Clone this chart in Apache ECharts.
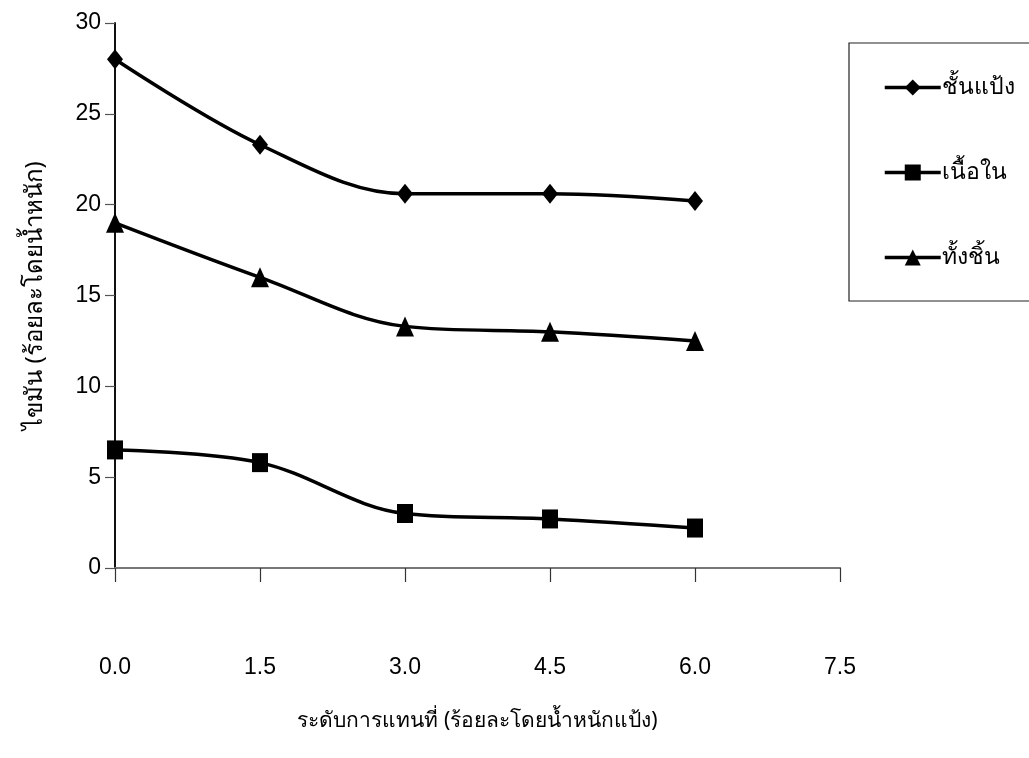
<!DOCTYPE html>
<html>
<head>
<meta charset="utf-8">
<script src="https://cdn.jsdelivr.net/npm/echarts@6/dist/echarts.min.js"></script>
<style>
  html, body { margin: 0; padding: 0; background: #fff; }
  #chart { width: 1029px; height: 758px; }
</style>
</head>
<body>
<div id="chart"></div>
<script>
// Replacement level (% by weight of flour)
const levels = [0.0, 1.5, 3.0, 4.5, 6.0];
// Fat content (% by weight) per part of the product
const seriesNames = ['ชั้นแป้ง', 'เนื้อใน', 'ทั้งชิ้น'];
const crustFat = [28.0, 23.3, 20.6, 20.6, 20.2];
const fillingFat = [6.5, 5.8, 3.0, 2.7, 2.2];
const wholeFat = [19.0, 16.0, 13.3, 13.0, 12.5];

const xTitle = 'ระดับการแทนที่ (ร้อยละโดยน้ำหนักแป้ง)';
const yTitle = 'ไขมัน (ร้อยละโดยน้ำหนัก)';

const NUM_FONT = '"Liberation Sans", Arial, sans-serif';
const THAI_FONT = '"Noto Sans", sans-serif';

const chart = echarts.init(document.getElementById('chart'));

function pairs(vals) {
  return levels.map((x, i) => [x, vals[i]]);
}

const lineStyle = { color: '#000', width: 3.5 };
const itemStyle = { color: '#000' };

chart.setOption({
  backgroundColor: '#fff',
  animation: false,
  grid: { left: 115, right: 189, top: 23, bottom: 190 },
  legend: {
    orient: 'vertical',
    left: 849,
    top: 43,
    padding: [33, 120, 32, 34],
    borderColor: '#222',
    borderWidth: 1.2,
    itemWidth: 56,
    itemHeight: 20,
    itemGap: 62,
    lineStyle: { width: 3.5 },
    textStyle: { fontFamily: THAI_FONT, fontSize: 23, color: '#000', padding: [0, 0, 0, -4] },
    data: seriesNames
  },
  xAxis: [{
    type: 'value',
    min: 0, max: 7.5, interval: 1.5,
    name: xTitle,
    nameLocation: 'middle',
    nameGap: 143,
    nameTextStyle: { fontFamily: THAI_FONT, fontSize: 21, color: '#000' },
    axisLine: { show: true, onZero: false, lineStyle: { color: '#000', width: 1.5 } },
    axisTick: { show: true, length: 14, lineStyle: { color: '#333', width: 1.2 } },
    axisLabel: {
      margin: 88, fontFamily: NUM_FONT, fontSize: 23, color: '#000',
      formatter: v => v.toFixed(1)
    },
    splitLine: { show: false }
  }, {
    type: 'value',
    position: 'top',
    min: 0, max: 7.5,
    axisLine: { show: true, lineStyle: { color: '#777', width: 2 } },
    axisTick: { show: false },
    axisLabel: { show: false },
    splitLine: { show: false }
  }],
  yAxis: [{
    type: 'value',
    min: 0, max: 30, interval: 5,
    name: yTitle,
    nameLocation: 'middle',
    nameRotate: 90,
    nameGap: 68,
    nameTextStyle: { fontFamily: THAI_FONT, fontSize: 24, color: '#000' },
    axisLine: { show: true, onZero: false, lineStyle: { color: '#000', width: 1.5 } },
    axisTick: { show: true, length: 10, lineStyle: { color: '#555', width: 1.2 } },
    axisLabel: { margin: 14, fontFamily: NUM_FONT, fontSize: 23, color: '#000' },
    splitLine: { show: false }
  }, {
    type: 'value',
    position: 'right',
    min: 0, max: 30,
    axisLine: { show: true, lineStyle: { color: '#000', width: 1.5 } },
    axisTick: { show: false },
    axisLabel: { show: false },
    splitLine: { show: false }
  }],
  series: [
    {
      name: seriesNames[0], type: 'line', smooth: 0.35,
      data: pairs(crustFat),
      symbol: 'diamond', symbolSize: [16, 20],
      lineStyle, itemStyle
    },
    {
      name: seriesNames[1], type: 'line', smooth: 0.35,
      data: pairs(fillingFat),
      symbol: 'rect', symbolSize: [16, 19],
      lineStyle, itemStyle
    },
    {
      name: seriesNames[2], type: 'line', smooth: 0.35,
      data: pairs(wholeFat),
      symbol: 'triangle', symbolSize: [18, 20],
      lineStyle, itemStyle
    }
  ]
});
</script>
</body>
</html>
